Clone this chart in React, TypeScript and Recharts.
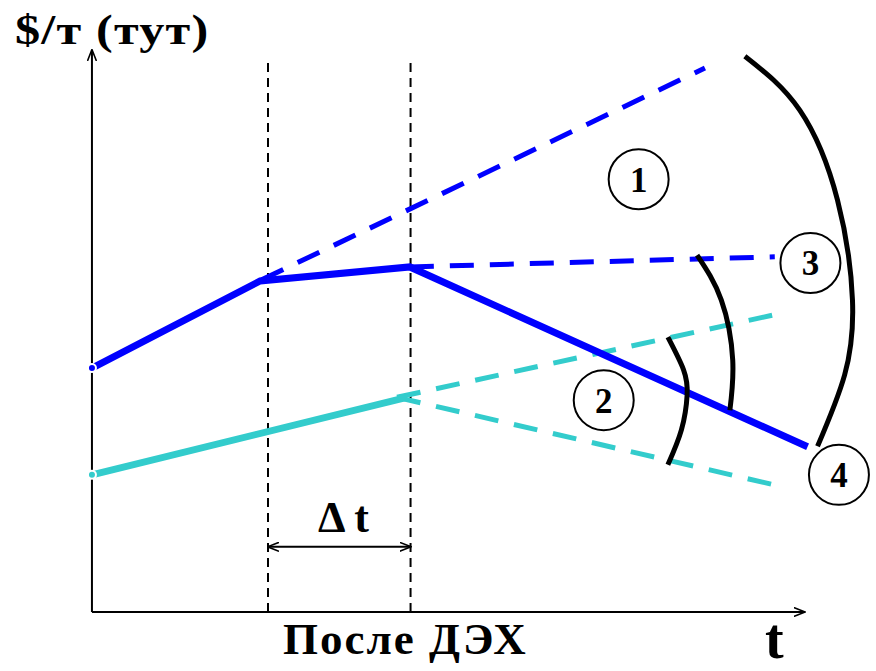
import React from "react";
import { LineChart, Line, XAxis, YAxis, ReferenceLine, ReferenceDot } from "recharts";

const W = 876;
const H = 671;

// schematic units: time 0..100 along the x axis, price 0..100 up the y axis
const X_DOMAIN: [number, number] = [-12.9, 110];
const Y_DOMAIN: [number, number] = [-10.5, 108.9];

const T_START = 24.7; // start of Δt
const T_END = 44.7; // "После ДЭХ"

const blueActual = [
  { x: 0, y: 43.4 },
  { x: 23.6, y: 58.9 },
  { x: 44.6, y: 61.4 },
  { x: 100.4, y: 29.4 },
];
const blueTrend1 = [
  { x: 23.8, y: 59.1 },
  { x: 86.0, y: 96.8 },
];
const blueTrend3 = [
  { x: 44.6, y: 61.4 },
  { x: 95.8, y: 63.2 },
];
const cyanActual = [
  { x: 0, y: 24.4 },
  { x: 43.9, y: 38.1 },
];
const cyanUp = [
  { x: 42.8, y: 38.2 },
  { x: 95.8, y: 52.9 },
];
const cyanDown = [
  { x: 42.8, y: 38.2 },
  { x: 95.8, y: 22.6 },
];

const arcBig = [
  { x: 91.6, y: 98.9 },
  { x: 99.3, y: 89.3 },
  { x: 104.6, y: 73.3 },
  { x: 106.7, y: 55.5 },
  { x: 105.6, y: 42.2 },
  { x: 101.8, y: 29.5 },
];
const arcMid = [
  { x: 84.9, y: 63.5 },
  { x: 88.3, y: 55.5 },
  { x: 89.9, y: 44.8 },
  { x: 89.5, y: 35.9 },
];
const arcSmall = [
  { x: 80.8, y: 48.9 },
  { x: 83.0, y: 43.1 },
  { x: 83.5, y: 38.6 },
  { x: 82.7, y: 32.4 },
  { x: 80.8, y: 26.2 },
];

const markers = [
  { x: 76.7, y: 77.0, label: "1" },
  { x: 71.8, y: 37.7, label: "2" },
  { x: 100.8, y: 62.1, label: "3" },
  { x: 104.8, y: 24.4, label: "4" },
];

const BLUE = "#0000FF";
const CYAN = "#33CCCC";
const SERIF = "'Liberation Serif', 'Times New Roman', serif";

function arrowLine(id: string, both: boolean, width: number) {
  return function ArrowShape(props: any) {
    const { x1, y1, x2, y2 } = props;
    return (
      <g>
        <defs>
          <marker
            id={id}
            viewBox="0 0 12 10"
            refX="11"
            refY="5"
            markerWidth="12"
            markerHeight="10"
            markerUnits="userSpaceOnUse"
            orient="auto-start-reverse"
          >
            <path d="M0,0.5 L11.5,5 L0,9.5" fill="none" stroke="#000" strokeWidth={1.6} />
          </marker>
        </defs>
        <line
          x1={x1}
          y1={y1}
          x2={x2}
          y2={y2}
          stroke="#000"
          strokeWidth={width}
          markerEnd={`url(#${id})`}
          markerStart={both ? `url(#${id})` : undefined}
        />
      </g>
    );
  };
}

const textBase: React.CSSProperties = {
  position: "absolute",
  fontFamily: SERIF,
  fontWeight: "bold",
  lineHeight: 1,
  whiteSpace: "nowrap",
  color: "#000",
  transformOrigin: "left bottom",
};

export default function App() {
  return (
    <div style={{ position: "absolute", left: 0, top: 0, width: W, height: H, background: "#fff", overflow: "hidden" }}>
      <LineChart width={W} height={H} margin={{ top: 0, right: 0, left: 0, bottom: 0 }}>
        <XAxis dataKey="x" type="number" domain={X_DOMAIN} hide allowDataOverflow />
        <YAxis dataKey="y" type="number" domain={Y_DOMAIN} hide allowDataOverflow />

        {/* axes */}
        <ReferenceLine
          segment={[{ x: 0, y: 0 }, { x: 0, y: 100 }]}
          shape={arrowLine("arrY", false, 2)}
          ifOverflow="visible"
        />
        <ReferenceLine
          segment={[{ x: 0, y: 0 }, { x: 100, y: 0 }]}
          shape={arrowLine("arrX", false, 2)}
          ifOverflow="visible"
        />

        {/* Δt guides */}
        <ReferenceLine
          segment={[{ x: T_START, y: 0 }, { x: T_START, y: 97.9 }]}
          stroke="#000"
          strokeWidth={2}
          strokeDasharray="9 6"
        />
        <ReferenceLine
          segment={[{ x: T_END, y: 0 }, { x: T_END, y: 97.9 }]}
          stroke="#000"
          strokeWidth={2}
          strokeDasharray="9 6"
        />
        <ReferenceLine
          segment={[{ x: T_START, y: 11.6 }, { x: T_END, y: 11.6 }]}
          shape={arrowLine("arrT", true, 2)}
        />

        <Line data={blueTrend1} dataKey="y" stroke={BLUE} strokeWidth={5} strokeDasharray="24 16" dot={false} isAnimationActive={false} />
        <Line data={blueTrend3} dataKey="y" stroke={BLUE} strokeWidth={5} strokeDasharray="24 16" dot={false} isAnimationActive={false} />
        <Line data={cyanUp} dataKey="y" stroke={CYAN} strokeWidth={5} strokeDasharray="24 16" dot={false} isAnimationActive={false} />
        <Line data={cyanDown} dataKey="y" stroke={CYAN} strokeWidth={5} strokeDasharray="24 16" dot={false} isAnimationActive={false} />
        <Line data={cyanActual} dataKey="y" stroke={CYAN} strokeWidth={7} dot={false} isAnimationActive={false} />
        <Line data={blueActual} dataKey="y" stroke={BLUE} strokeWidth={7} dot={false} isAnimationActive={false} />

        <Line data={arcBig} dataKey="y" type="natural" stroke="#000" strokeWidth={5} dot={false} isAnimationActive={false} />
        <Line data={arcMid} dataKey="y" type="natural" stroke="#000" strokeWidth={5} dot={false} isAnimationActive={false} />
        <Line data={arcSmall} dataKey="y" type="natural" stroke="#000" strokeWidth={5} dot={false} isAnimationActive={false} />

        {markers.map((m) => (
          <ReferenceDot
            key={m.label}
            x={m.x}
            y={m.y}
            r={30}
            fill="#fff"
            stroke="#000"
            strokeWidth={2}
            ifOverflow="visible"
            label={{
              value: m.label,
              position: "center",
              fontSize: 35,
              fontWeight: "bold",
              fontFamily: SERIF,
              fill: "#000",
            }}
          />
        ))}
      </LineChart>

      <div style={{ ...textBase, left: 15, top: 8, fontSize: 43, letterSpacing: 1, transform: "scaleX(1.17)" }}>
        $/т (тут)
      </div>
      <div style={{ ...textBase, left: 283, top: 617, fontSize: 45, letterSpacing: 2 }}>После ДЭХ</div>
      <div style={{ ...textBase, left: 765, top: 611, fontSize: 56 }}>t</div>
      <div style={{ ...textBase, left: 318, top: 496, fontSize: 44 }}>Δ t</div>
    </div>
  );
}
